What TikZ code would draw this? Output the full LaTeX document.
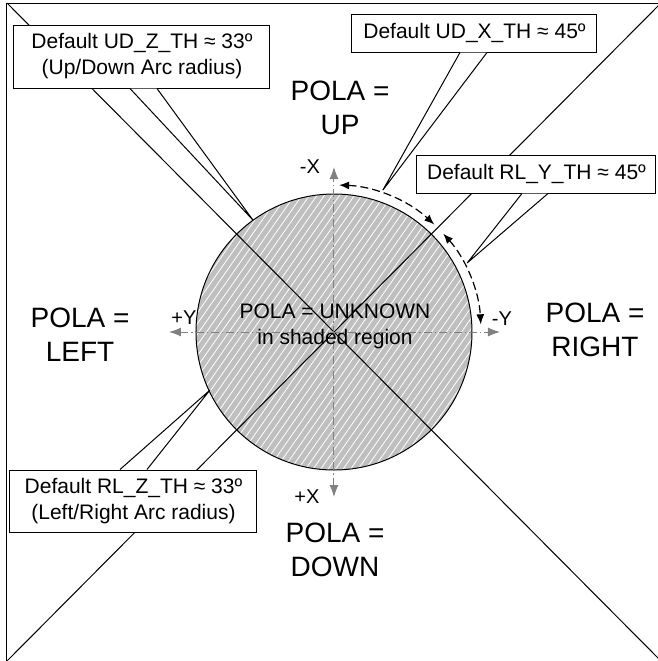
\documentclass[tikz,border=0pt]{standalone}
\usepackage{fontspec}
\setmainfont{Liberation Sans}
\usetikzlibrary{arrows.meta}
\usetikzlibrary{positioning}

\begin{document}
\begin{tikzpicture}[x=0.5pt, y=0.5pt, line width=0.5pt,
	every path/.style={>={Latex[length=5pt,width=4pt]}},
	callout/.style={draw, fill=white, align=center, inner sep=0pt, font=\fontsize{10.5}{13}\selectfont},
	wedge/.style={draw, fill=white},
	pola/.style={align=center, font=\fontsize{14}{17}\selectfont},
	axlabel/.style={font=\fontsize{10}{12}\selectfont},
	axis/.style={draw=gray, dash pattern=on 4pt off 1.5pt on 0.6pt off 1.5pt},
	sweep/.style={<->, line width=0.6pt, dash pattern=on 4pt off 2pt}]
	\useasboundingbox (-334,-329) rectangle (324,332);
	\coordinate (C) at (0,0);
	\coordinate (tl) at (-327,329);
	\coordinate (tr) at (327,329);
	\coordinate (bl) at (-327,-329);
	\coordinate (br) at (327,-329);
	% shaded region
	\fill[black!25] (C) circle[radius=138];
	\begin{scope}
		\clip (C) circle[radius=138];
		\foreach \i in {-24,...,24}
			\draw[white, line width=0.4pt] (\i*7.5-100,-143) -- (\i*7.5+100,143);
	\end{scope}
	\draw (C) circle[radius=138];
	% frame and diagonals
	\draw (br) -- (bl) -- (tl) -- (tr);
	\draw (tl) -- (br);
	\draw (bl) -- (tr);
	% axes
	\coordinate (axN) at (0,165);
	\coordinate (axS) at (0,-165);
	\coordinate (axE) at (166,0);
	\coordinate (axW) at (-165,0);
	\draw[axis, <->, >={Latex[length=6pt,width=4.5pt]}, gray] (axS) -- (axN);
	\draw[axis, <->, >={Latex[length=6pt,width=4.5pt]}, gray] (axW) -- (axE);
	\node[axlabel] (mX) at (-24,165) {-X};
	\node[axlabel] (pX) at (-27,-165) {+X};
	\node[axlabel] (mY) at (168,13) {-Y};
	\node[axlabel] (pY) at (-150,14) {+Y};
	% threshold arcs
	\draw[sweep] (88:147) arc[start angle=88, end angle=47, radius=147];
	\draw[sweep] (42:147) arc[start angle=42, end angle=3, radius=147];
	% regions
	\node[pola] (up) at (6,224) {POLA =\\UP};
	\node[pola] (down) at (1,-218) {POLA =\\DOWN};
	\node[pola] (left) at (-254,-3) {POLA =\\LEFT};
	\node[pola] (right) at (261,2) {POLA =\\RIGHT};
	\node[align=center, font=\fontsize{10.5}{13}\selectfont] (unk) at (1,6) {POLA = UNKNOWN\\in shaded region};
	% callouts
	\coordinate (tUDZ) at (125.9:138);
	\coordinate (tUDX) at (71:150);
	\coordinate (tRLY) at (27.4:150);
	\coordinate (tRLZ) at (205.1:137);
	\node[callout, minimum width=128pt, minimum height=31.5pt] (udz) at (-192,275.5) {Default UD\_Z\_TH ≈ 33º\\(Up/Down Arc radius)};
	\node[callout, minimum width=122.5pt, minimum height=19pt] (udx) at (140.5,299) {Default UD\_X\_TH ≈ 45º};
	\node[callout, minimum width=119.5pt, minimum height=19pt] (rly) at (202.5,158) {Default RL\_Y\_TH ≈ 45º};
	\node[callout, minimum width=123.5pt, minimum height=31pt] (rlz) at (-200.5,-169) {Default RL\_Z\_TH ≈ 33º\\(Left/Right Arc radius)};
	\draw[wedge] ([xshift=-6pt]udz.south) -- (tUDZ) -- ([xshift=7.5pt]udz.south);
	\draw[wedge] ([xshift=-7.25pt]udx.south) -- (tUDX) -- ([xshift=6.25pt]udx.south);
	\draw[wedge] ([xshift=-7.25pt]rly.south) -- (tRLY) -- ([xshift=5.75pt]rly.south);
	\draw[wedge] ([xshift=-6.75pt]rlz.north) -- (tRLZ) -- ([xshift=6.75pt]rlz.north);
\end{tikzpicture}
\end{document}
